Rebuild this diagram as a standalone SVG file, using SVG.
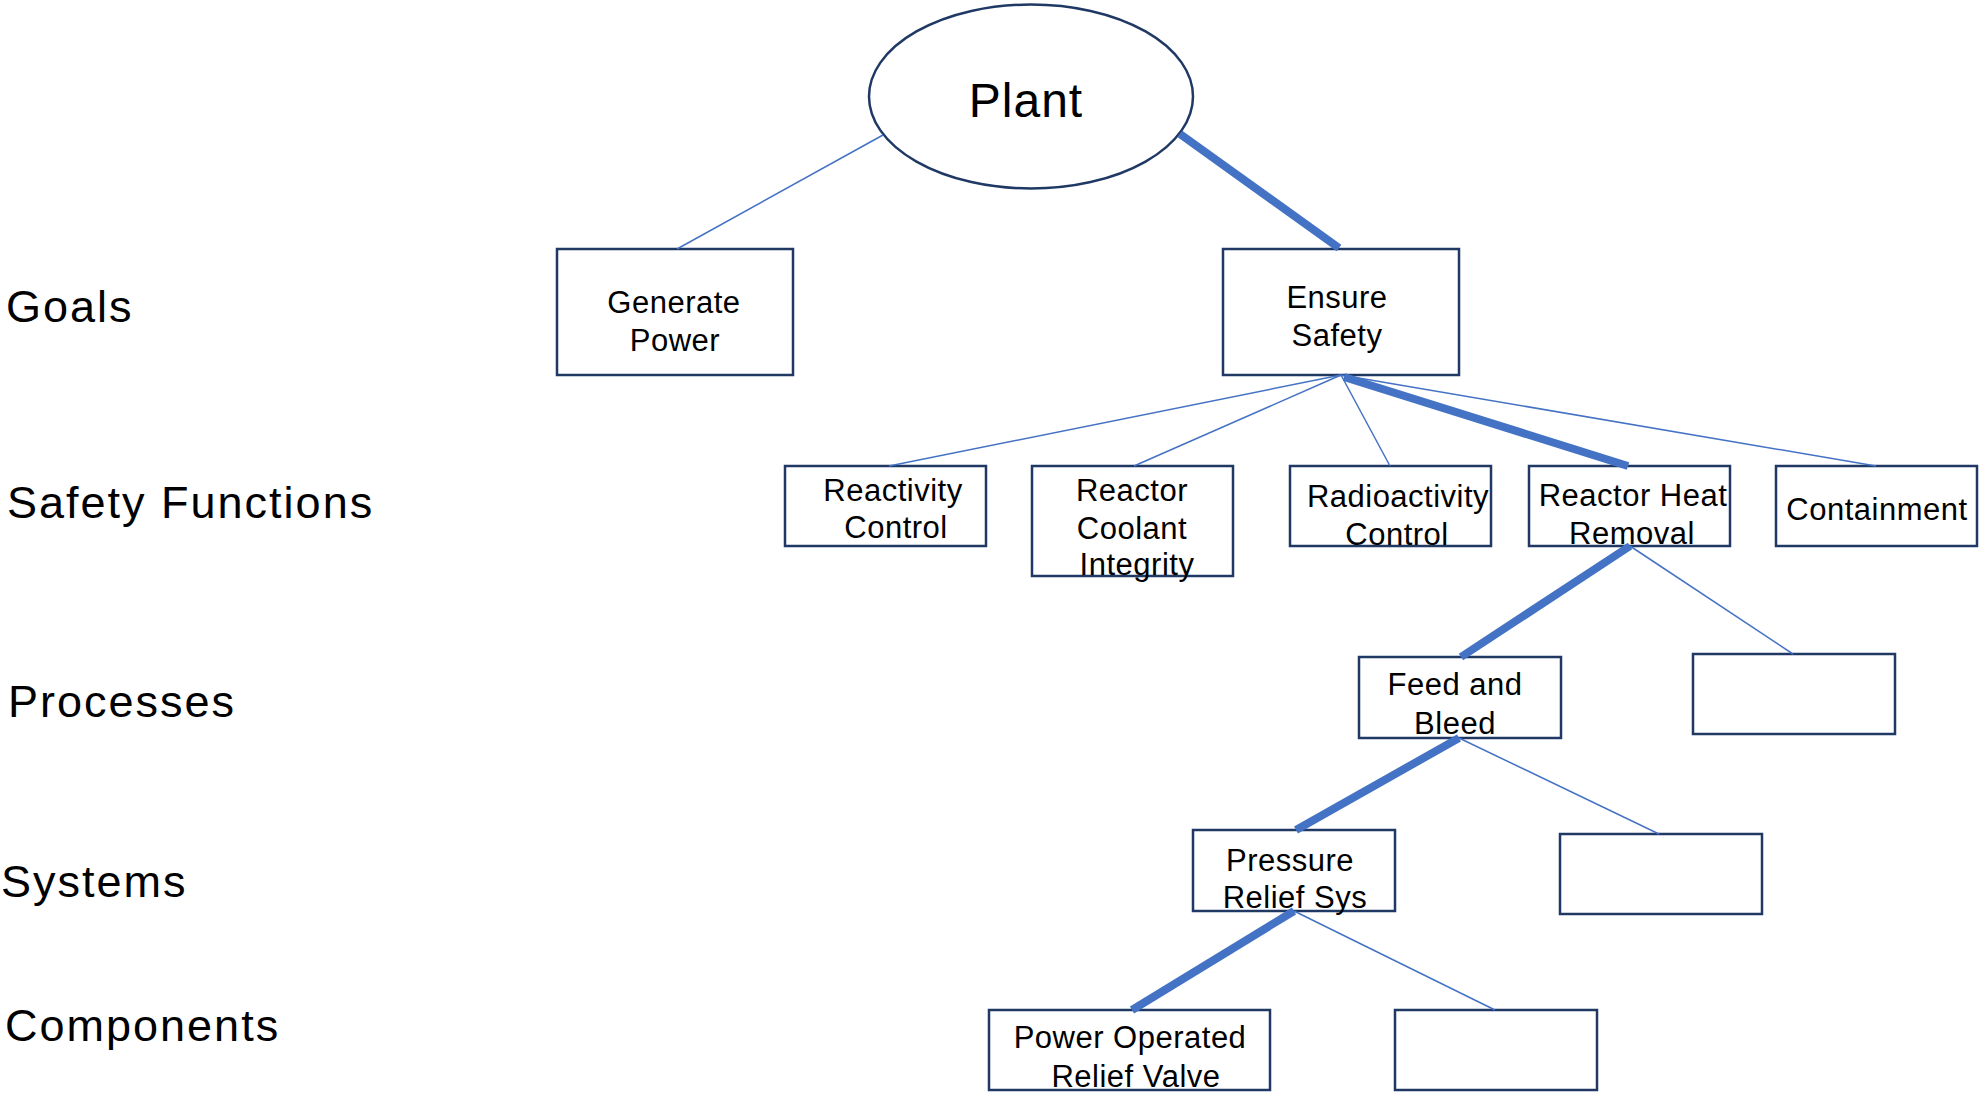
<svg xmlns="http://www.w3.org/2000/svg" width="1979" height="1095" viewBox="0 0 1979 1095">
  <style>
    .box { fill: #ffffff; stroke: #1f3864; stroke-width: 2.5; }
    .lbl { font-family: "Liberation Sans", Arial, sans-serif; font-size: 31px; letter-spacing: 0.5px; fill: #000000; text-anchor: middle; }
    .level { font-family: "Liberation Sans", Arial, sans-serif; font-size: 45px; letter-spacing: 2px; fill: #000000; }
    .thin { stroke: #4472c4; stroke-width: 1.5; fill: none; }
    .thick { stroke: #4472c4; stroke-width: 8; stroke-linecap: butt; fill: none; }
  </style>
  <rect width="1979" height="1095" fill="#ffffff"/>

  <!-- level captions -->
  <g id="levels">
    <text class="level" x="6" y="322">Goals</text>
    <text class="level" x="7" y="518">Safety Functions</text>
    <text class="level" x="8" y="717">Processes</text>
    <text class="level" x="1" y="897" letter-spacing="1.5">Systems</text>
    <text class="level" x="5" y="1041">Components</text>
  </g>

  <!-- root -->
  <g id="plant">
    <ellipse class="box" cx="1031" cy="96.5" rx="162" ry="92" stroke-width="2"/>
    <text x="1026" y="117" font-family="Liberation Sans, Arial, sans-serif" font-size="48" letter-spacing="1" text-anchor="middle">Plant</text>
  </g>

  <!-- goals -->
  <g id="generate-power">
    <rect class="box" x="557" y="249" width="236" height="126"/>
    <text class="lbl" x="674" y="313">Generate</text>
    <text class="lbl" x="675" y="351">Power</text>
  </g>
  <g id="ensure-safety">
    <rect class="box" x="1223" y="249" width="236" height="126"/>
    <text class="lbl" x="1337" y="308">Ensure</text>
    <text class="lbl" x="1337" y="346">Safety</text>
  </g>

  <!-- safety functions -->
  <g id="reactivity-control">
    <rect class="box" x="785" y="466" width="201" height="80"/>
    <text class="lbl" x="893" y="501">Reactivity</text>
    <text class="lbl" x="896" y="538">Control</text>
  </g>
  <g id="reactor-coolant-integrity">
    <rect class="box" x="1032" y="466" width="201" height="110"/>
    <text class="lbl" x="1132" y="501">Reactor</text>
    <text class="lbl" x="1132" y="539">Coolant</text>
    <text class="lbl" x="1137" y="575">Integrity</text>
  </g>
  <g id="radioactivity-control">
    <rect class="box" x="1290" y="466" width="201" height="80"/>
    <text class="lbl" x="1398" y="507">Radioactivity</text>
    <text class="lbl" x="1397" y="545">Control</text>
  </g>
  <g id="reactor-heat-removal">
    <rect class="box" x="1529" y="466" width="201" height="80"/>
    <text class="lbl" x="1633" y="506">Reactor Heat</text>
    <text class="lbl" x="1632" y="544">Removal</text>
  </g>
  <g id="containment">
    <rect class="box" x="1776" y="466" width="201" height="80"/>
    <text class="lbl" x="1877" y="520">Containment</text>
  </g>

  <!-- processes -->
  <g id="feed-and-bleed">
    <rect class="box" x="1359" y="657" width="202" height="81"/>
    <text class="lbl" x="1455" y="695">Feed and</text>
    <text class="lbl" x="1455" y="734">Bleed</text>
  </g>
  <g id="process-2">
    <rect class="box" x="1693" y="654" width="202" height="80"/>
  </g>

  <!-- systems -->
  <g id="pressure-relief-sys">
    <rect class="box" x="1193" y="830" width="202" height="81"/>
    <text class="lbl" x="1290" y="871">Pressure</text>
    <text class="lbl" x="1295" y="908">Relief Sys</text>
  </g>
  <g id="system-2">
    <rect class="box" x="1560" y="834" width="202" height="80"/>
  </g>

  <!-- components -->
  <g id="porv">
    <rect class="box" x="989" y="1010" width="281" height="80"/>
    <text class="lbl" x="1130" y="1048">Power Operated</text>
    <text class="lbl" x="1136" y="1087">Relief Valve</text>
  </g>
  <g id="component-2">
    <rect class="box" x="1395" y="1010" width="202" height="80"/>
  </g>

  <!-- connectors; the heavy path marks the chain of interest -->
  <g id="connectors">
    <line class="thin" x1="883" y1="135" x2="677" y2="249"/>
    <line class="thick" stroke-width="11" x1="1180" y1="134" x2="1339" y2="248"/>

    <line class="thin" x1="1341" y1="375" x2="889" y2="466"/>
    <line class="thin" x1="1341" y1="375" x2="1134" y2="466"/>
    <line class="thin" x1="1341" y1="375" x2="1390" y2="466"/>
    <line class="thin" x1="1341" y1="375" x2="1876" y2="466"/>
    <line class="thick" x1="1344" y1="377" x2="1628" y2="466"/>

    <line class="thick" x1="1630" y1="546" x2="1461" y2="657"/>
    <line class="thin" x1="1630" y1="546" x2="1793" y2="654"/>

    <line class="thick" x1="1459" y1="738" x2="1296" y2="830"/>
    <line class="thin" x1="1459" y1="738" x2="1659" y2="834"/>

    <line class="thick" x1="1294" y1="911" x2="1132" y2="1010"/>
    <line class="thin" x1="1294" y1="911" x2="1495" y2="1010"/>
  </g>
</svg>
